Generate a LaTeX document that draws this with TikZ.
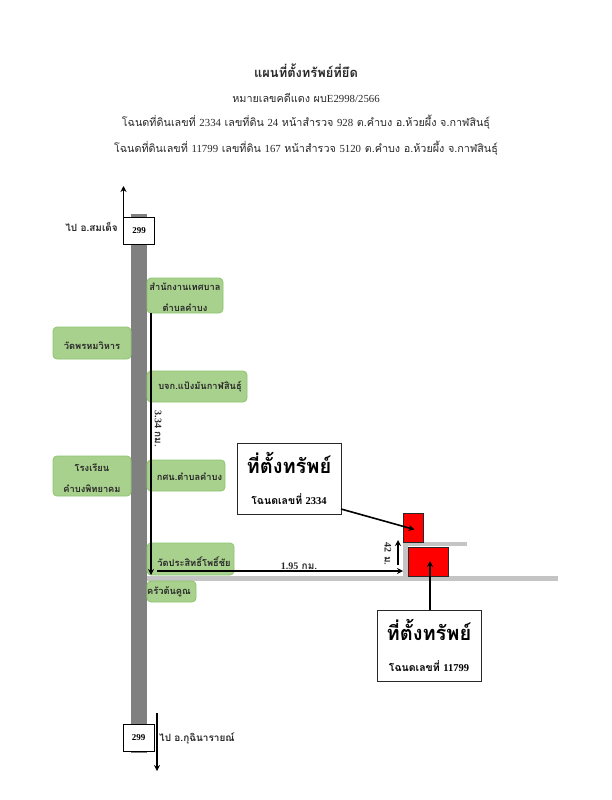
\documentclass[tikz,border=0pt]{standalone}
\usepackage{fontspec}
\setmainfont[Script=Thai]{Loma}
\newfontfamily\numfont{Liberation Serif}
\usetikzlibrary{calc,arrows.meta}
\definecolor{roadgray}{RGB}{128,128,128}
\definecolor{lanegray}{RGB}{196,196,196}
\definecolor{placegreen}{RGB}{169,209,142}
\definecolor{placeedge}{RGB}{140,196,110}
\definecolor{inkgray}{RGB}{40,40,40}
\tikzset{>={Stealth[length=6pt,width=6pt]},
  place/.style={draw=placeedge,line width=0.8pt,fill=placegreen,rounded corners=4pt,inner sep=0pt,
    align=center,text=inkgray,font=\fontsize{9.3}{21}\selectfont\bfseries},
  signbox/.style={draw=black,line width=0.8pt,fill=white,minimum width=31pt,minimum height=27pt,inner sep=0pt,
    font=\numfont\fontsize{9}{10}\selectfont\bfseries},
  landbox/.style={draw=inkgray,line width=1pt,fill=white,minimum width=104pt,minimum height=71pt,inner sep=0pt,align=center},
  redlot/.style={draw=inkgray,line width=0.5pt,fill=red,inner sep=0pt},
  headline/.style={text=inkgray,inner sep=0pt,font=\fontsize{10.8}{12}\selectfont},
  smalltag/.style={inner sep=0pt,text=inkgray,font=\fontsize{10}{12}\selectfont\bfseries},
  bigarrow/.style={->,line width=1.6pt},
  thinarrow/.style={->,line width=1.1pt}
}
\newcommand{\landtext}[1]{{\fontsize{20}{30}\selectfont\bfseries ที่ตั้งทรัพย์}\\[19pt]{\fontsize{10.5}{12}\selectfont\bfseries โฉนดเลขที่ {\numfont #1}}}
\newcommand{\shiftin}[2]{\hspace*{#1}\rule{0pt}{#2}}
\begin{document}
\begin{tikzpicture}[x=1pt,y=-1pt]
  \useasboundingbox (0,0) rectangle (612,800);

  \node[headline,font=\fontsize{12.9}{14}\selectfont\bfseries] (title) at (306,71) {แผนที่ตั้งทรัพย์ที่ยึด};
  \node[headline] (caseno) at (306,98) {หมายเลขคดีแดง ผบ{\numfont E2998/2566}};
  \node[headline] (deedone) at (306,122) {โฉนดที่ดินเลขที่ {\numfont 2334} เลขที่ดิน {\numfont 24} หน้าสำรวจ {\numfont 928} ต.คำบง อ.ห้วยผึ้ง จ.กาฬสินธุ์};
  \node[headline] (deedtwo) at (306,148) {โฉนดที่ดินเลขที่ {\numfont 11799} เลขที่ดิน {\numfont 167} หน้าสำรวจ {\numfont 5120} ต.คำบง อ.ห้วยผึ้ง จ.กาฬสินธุ์};

  % roads
  \fill[lanegray] (146,576) rectangle (558,580.5);
  \fill[lanegray] (403,541.5) rectangle (467,546);
  \fill[lanegray] (403,541.5) rectangle (408,576);
  \fill[roadgray] (131,214) rectangle (146.5,753);

  % places along the road
  \node[place,minimum width=76pt,minimum height=35pt] (office) at (185,295.5) {\rule{0pt}{12pt}สำนักงานเทศบาล\\ตำบลคำบง};
  \node[place,minimum width=78pt,minimum height=32pt] (temple) at (92,343) {\shiftin{0pt}{14pt}วัดพรหมวิหาร};
  \node[place,minimum width=100pt,minimum height=31pt] (factory) at (197,386.5) {\shiftin{6pt}{8pt}บจก.แป้งมันกาฬสินธุ์};
  \node[place,minimum width=78pt,minimum height=40pt] (school) at (92,476) {\rule{0pt}{12pt}โรงเรียน\\คำบงพิทยาคม};
  \node[place,minimum width=78pt,minimum height=31pt] (nfe) at (186,475.5) {\shiftin{7pt}{10pt}กศน.ตำบลคำบง};
  \node[place,minimum width=87pt,minimum height=32pt] (wat) at (190.5,559) {\shiftin{7pt}{16pt}วัดประสิทธิ์โพธิ์ชัย};
  \node[place,minimum width=49pt,minimum height=21pt] (kitchen) at (171.5,591.5) {ครัวต้นคูณ\hspace*{5pt}};

  % route signs
  \node[signbox] (signtop) at (139,230.5) {299};
  \node[signbox] (signbottom) at (138.5,737.5) {299};
  \coordinate (northend) at (123.5,186);
  \coordinate (northstart) at (123.5,217);
  \coordinate (southstart) at (157,713);
  \coordinate (southend) at (157,771);
  \draw[thinarrow] (northstart) -- (northend);
  \draw[thinarrow] (southstart) -- (southend);
  \node[smalltag,anchor=east] (tosomdet) at (118,227) {ไป อ.สมเด็จ};
  \node[smalltag,anchor=west] (tokuchi) at (159,738) {ไป อ.กุฉินารายณ์};

  % the two lots
  \node[redlot,minimum width=20pt,minimum height=29pt] (lotone) at (413,527.5) {};
  \node[redlot,minimum width=40pt,minimum height=29pt] (lottwo) at (428,561.5) {};
  \node[landbox] (boxone) at (289,478.5) {\landtext{2334}};
  \node[landbox] (boxtwo) at (429,645.5) {\landtext{11799}};
  \coordinate (boxonefoot) at (341,509);
  \coordinate (lotonetip) at (414.5,529.5);
  \coordinate (lottwotip) at (430,561);
  \coordinate (boxtwohead) at (430,610);
  \draw[bigarrow] (boxonefoot) -- (lotonetip);
  \draw[bigarrow] (boxtwohead) -- (lottwotip);

  % distances
  \coordinate (junctionnorth) at (151,313);
  \coordinate (junctionsouth) at (151,575);
  \coordinate (branchstart) at (157,571);
  \coordinate (branchend) at (403,571);
  \coordinate (lanestart) at (398,565);
  \coordinate (laneend) at (398,540);
  \draw[->,line width=1.5pt] (junctionnorth) -- (junctionsouth);
  \draw[thinarrow,line width=1.4pt] (branchstart) -- (branchend);
  \draw[thinarrow] (lanestart) -- (laneend);
  \node[smalltag,rotate=-90] (distnorth) at (158,429) {{\numfont 3.34} กม.};
  \node[smalltag] (distbranch) at (299,566) {{\numfont 1.95} กม.};
  \node[smalltag,rotate=-90] (distlane) at (388,554) {{\numfont 42} ม.};
\end{tikzpicture}
\end{document}
